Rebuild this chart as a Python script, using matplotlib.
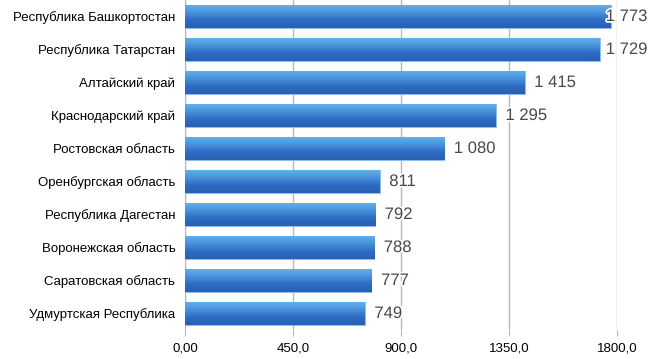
import numpy as np
import matplotlib.pyplot as plt
import matplotlib.patheffects as pe

regions = ['Республика Башкортостан', 'Республика Татарстан', 'Алтайский край',
           'Краснодарский край', 'Ростовская область', 'Оренбургская область',
           'Республика Дагестан', 'Воронежская область', 'Саратовская область',
           'Удмуртская Республика']
values = [1773, 1729, 1415, 1295, 1080, 811, 792, 788, 777, 749]
value_labels = ['1 773', '1 729', '1 415', '1 295', '1 080', '811', '792', '788', '777', '749']
xticks = [0, 450, 900, 1350, 1800]
xtick_labels = ['0,00', '450,0', '900,0', '1350,0', '1800,0']

plt.rcParams['font.family'] = ['Liberation Sans', 'DejaVu Sans']

fig = plt.figure(figsize=(6.58, 3.59), dpi=100)
ax = fig.add_axes([185 / 658, 1 - 330 / 359, 432 / 658, 330 / 359])

y = np.arange(len(regions))
bars = ax.barh(y, values, height=0.7, color='#3f86d6', edgecolor='#8fc0ec',
               linewidth=0.8, zorder=3)

# градиент на каждом столбике
grad = np.linspace(0, 1, 64).reshape(-1, 1)
cmap = plt.matplotlib.colors.LinearSegmentedColormap.from_list(
    'b', ['#62b4ec', '#4a94dc', '#2e6cc4', '#2a5fb4'])
for b in bars:
    x0, y0 = b.get_x(), b.get_y()
    w, h = b.get_width(), b.get_height()
    im = ax.imshow(grad, cmap=cmap, aspect='auto', zorder=4,
                   extent=[x0, x0 + w, y0 + h, y0], interpolation='bicubic')
    im.set_clip_path(b)

for i, v in enumerate(values):
    xpos = min(v + 40, 1753)
    ax.text(xpos, i, value_labels[i], va='center', ha='left', fontsize=12,
            color='#4a4a4a', zorder=6,
            path_effects=[pe.withStroke(linewidth=2.5, foreground='white')])

ax.set_xlim(0, 1800)
ax.set_ylim(len(regions) - 0.5, -0.5)
ax.set_yticks(y)
ax.set_yticklabels(regions, fontsize=9.5)
ax.set_xticks(xticks)
ax.set_xticklabels(xtick_labels, fontsize=9.5)
ax.grid(axis='x', color='#b8b8b8', linewidth=1, zorder=0)
for s in ['top', 'right', 'bottom']:
    ax.spines[s].set_visible(False)
ax.spines['left'].set_color('#b8b8b8')
ax.tick_params(axis='y', length=0, pad=7)
ax.tick_params(axis='x', length=4, color='#b8b8b8', pad=5)

fig.savefig('out.png', dpi=100)
